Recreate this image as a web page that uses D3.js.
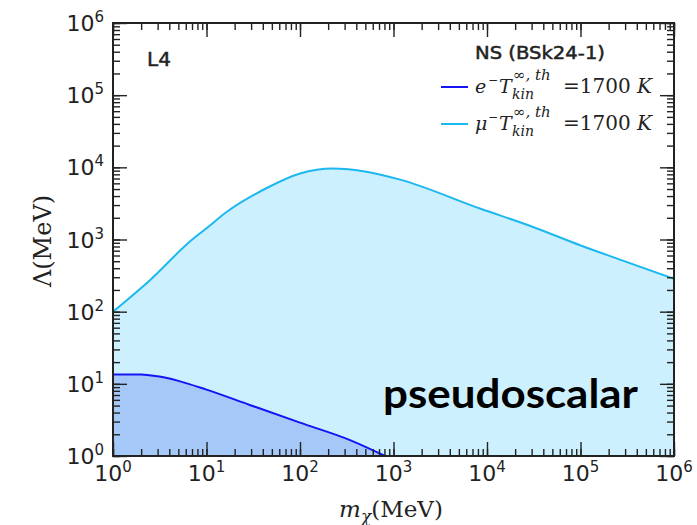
<!DOCTYPE html>
<html lang="en">
<head>
  <meta charset="utf-8" />
  <title>Lambda vs m_chi, pseudoscalar</title>
  <script src="https://d3js.org/d3.v7.min.js"></script>
  <style>
    body { margin: 0; background: #fff; }
    .tick line { stroke: #222; stroke-width: 1.4px; }
    .ticklab { font-family: "DejaVu Sans", sans-serif; fill: #222; }
    .math { font-family: "DejaVu Serif", serif; fill: #222; }
  </style>
</head>
<body>
  <svg width="697" height="525"></svg>
  <script>
    // mu- curve (MeV, MeV)
    const muMass = [1, 2.5, 6.6, 10, 16.4, 43.6, 100, 224, 513, 1175, 8400, 31600, 98900, 309000, 1e6];
    const muLambda = [100, 275, 930, 1430, 2400, 5130, 8220, 9660, 8710, 6760, 2690, 1480, 832, 490, 285];

    // e- curve
    const eMass = [1, 2, 3, 5, 10, 29, 100, 343, 813];
    const eLambda = [13.5, 13.5, 12.7, 11.0, 8.3, 5.1, 2.9, 1.66, 1.0];

    const decades = [1, 10, 100, 1e3, 1e4, 1e5, 1e6];

    const svg = d3.select("svg");
    const m = { left: 113, right: 674, top: 23, bottom: 456 };

    const x = d3.scaleLog().domain([1, 1e6]).range([m.left, m.right]);
    const y = d3.scaleLog().domain([1, 1e6]).range([m.bottom, m.top]);

    const mu = muMass.map((d, i) => ({ m: d, v: muLambda[i] }));
    const el = eMass.map((d, i) => ({ m: d, v: eLambda[i] }));

    svg.append("clipPath").attr("id", "clip")
      .append("rect")
      .attr("x", m.left).attr("y", m.top)
      .attr("width", m.right - m.left).attr("height", m.bottom - m.top);

    const area = d3.area()
      .x(d => x(d.m)).y0(m.bottom).y1(d => y(d.v))
      .curve(d3.curveMonotoneX);
    const line = d3.line()
      .x(d => x(d.m)).y(d => y(d.v))
      .curve(d3.curveMonotoneX);

    const plot = svg.append("g").attr("clip-path", "url(#clip)");
    plot.append("path").datum(mu).attr("d", area).attr("fill", "#ccf0fe");
    plot.append("path").datum(el).attr("d", area).attr("fill", "#a6c8f9");
    plot.append("path").datum(mu).attr("d", line)
      .attr("fill", "none").attr("stroke", "#1cb8f0").attr("stroke-width", 2);
    plot.append("path").datum(el).attr("d", line)
      .attr("fill", "none").attr("stroke", "#1414f5").attr("stroke-width", 2);

    // ticks on all four sides, pointing inwards
    const allTicks = x.ticks();
    function ticks(axisFn, scale, pos, size, vals) {
      const g = svg.append("g")
        .attr("transform", pos)
        .call(axisFn(scale).tickValues(vals).tickSize(size).tickFormat(""));
      g.select(".domain").remove();
    }
    [[d3.axisBottom, x, `translate(0,${m.bottom})`],
     [d3.axisTop, x, `translate(0,${m.top})`],
     [d3.axisLeft, y, `translate(${m.left},0)`],
     [d3.axisRight, y, `translate(${m.right},0)`]].forEach(([fn, s, p]) => {
      ticks(fn, s, p, -7, allTicks);
      ticks(fn, s, p, -14, decades);
    });

    svg.append("rect")
      .attr("x", m.left).attr("y", m.top)
      .attr("width", m.right - m.left).attr("height", m.bottom - m.top)
      .attr("fill", "none").attr("stroke", "#222").attr("stroke-width", 2);

    // tick labels 10^n
    function label(t, d) {
      t.append("tspan").text("10");
      t.append("tspan").attr("font-size", 15).attr("dy", -9).text(Math.round(Math.log10(d)));
    }
    svg.selectAll(".xl").data(decades).join("text")
      .attr("class", "ticklab").attr("font-size", 22)
      .attr("text-anchor", "middle")
      .attr("x", d => x(d)).attr("y", m.bottom + 25)
      .each(function (d) { label(d3.select(this), d); });
    svg.selectAll(".yl").data(decades).join("text")
      .attr("class", "ticklab").attr("font-size", 22)
      .attr("text-anchor", "end")
      .attr("x", m.left - 9).attr("y", d => y(d) + 8)
      .each(function (d) { label(d3.select(this), d); });

    // axis titles
    svg.append("text").attr("class", "math").attr("font-size", 24)
      .attr("text-anchor", "middle")
      .attr("transform", "translate(51,241) rotate(-90)")
      .text("Λ(MeV)");

    const xt = svg.append("text").attr("class", "math").attr("font-size", 23)
      .attr("text-anchor", "middle").attr("x", 391).attr("y", 517);
    xt.append("tspan").attr("font-style", "italic").text("m");
    xt.append("tspan").attr("font-style", "italic").attr("font-size", 17).attr("dy", 5).text("χ");
    xt.append("tspan").attr("dy", -5).text("(MeV)");

    // panel tag
    svg.append("text").attr("x", 147).attr("y", 66)
      .attr("font-family", "'DejaVu Sans', sans-serif").attr("font-size", 20)
      .attr("fill", "#222").attr("stroke", "#222").attr("stroke-width", 0.5).text("L4");

    // legend
    svg.append("text").attr("x", 475).attr("y", 59)
      .attr("font-family", "'DejaVu Sans', sans-serif").attr("font-size", 18)
      .attr("fill", "#222").attr("stroke", "#222").attr("stroke-width", 0.5)
      .attr("textLength", 130).attr("lengthAdjust", "spacingAndGlyphs")
      .text("NS (BSk24-1)");

    const legend = [
      { sym: "e", color: "#1414f5", yy: 93 },
      { sym: "μ", color: "#1cb8f0", yy: 130 },
    ];
    legend.forEach(l => {
      svg.append("line")
        .attr("x1", 441).attr("x2", 468).attr("y1", l.yy - 6).attr("y2", l.yy - 6)
        .attr("stroke", l.color).attr("stroke-width", 2);
      const t = svg.append("text").attr("class", "math").attr("font-size", 19);
      t.append("tspan").attr("x", 475).attr("y", l.yy).attr("font-style", "italic").text(l.sym);
      t.append("tspan").attr("x", 488).attr("y", l.yy - 9).attr("font-size", 12).text("−");
      t.append("tspan").attr("x", 499).attr("y", l.yy).attr("font-style", "italic").text("T");
      t.append("tspan").attr("x", 513).attr("y", l.yy - 13).attr("font-size", 15)
        .attr("font-style", "italic").text("∞, th");
      t.append("tspan").attr("x", 512).attr("y", l.yy + 6).attr("font-size", 14)
        .attr("font-style", "italic").text("kin");
      t.append("tspan").attr("x", 563).attr("y", l.yy).attr("font-size", 20).text("=1700 ");
      t.append("tspan").attr("font-size", 20).attr("font-style", "italic").text("K");
    });

    // annotation
    svg.append("text").attr("x", 383).attr("y", 408)
      .attr("font-family", "Lato, sans-serif").attr("font-size", 40)
      .attr("font-weight", "bold").attr("fill", "#000")
      .attr("textLength", 255).attr("lengthAdjust", "spacingAndGlyphs")
      .text("pseudoscalar");
  </script>
</body>
</html>
